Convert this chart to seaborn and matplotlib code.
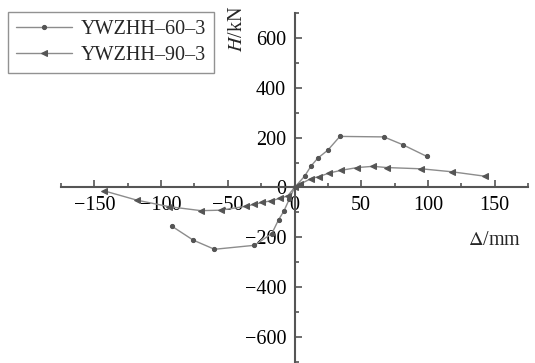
import numpy as np
import pandas as pd
import matplotlib
matplotlib.use("Agg")
import matplotlib.pyplot as plt
import seaborn as sns
from matplotlib.ticker import MultipleLocator

# hysteresis skeleton curves
x_60 = [-92, -76, -60, -30, -17, -12, -8, -4, 0, 7.5, 12.5, 17.5, 25, 34, 67, 81, 99]
h_60 = [-155, -211, -248, -232, -185, -130, -95, -48, 0, 45, 87, 118, 150, 205, 203, 172, 125]

x_90 = [-143, -118, -94, -70, -55, -36, -30, -24, -17.5, -11, -5, 0,
        4, 12.5, 18.5, 26, 35, 47, 59, 69, 95, 118, 143]
h_90 = [-13, -51, -77, -93, -91, -75, -67, -60, -53, -44, -33, 0,
        13, 36, 44, 58, 69, 80, 85, 80, 75, 63, 45]

labels = ["YWZHH\u201360\u20133", "YWZHH\u201390\u20133"]
x_ticks = [-150, -100, -50, 0, 50, 100, 150]
y_ticks = [-600, -400, -200, 0, 200, 400, 600]

sns.set_style("white")
plt.rcParams["font.family"] = ["Liberation Serif", "DejaVu Serif"]
plt.rcParams["mathtext.fontset"] = "stix"

fig = plt.figure(figsize=(5.35, 3.63), dpi=100)
ax = fig.add_axes([0.114, 0.003, 0.873, 0.961])

line_c = "#8c8c8c"
mark_c = "#555555"
sns.lineplot(x=x_60, y=h_60, ax=ax, sort=False, estimator=None, color=line_c,
             lw=1.0, marker="o", markersize=3, markerfacecolor=mark_c,
             markeredgecolor=mark_c, label=labels[0])
sns.lineplot(x=x_90, y=h_90, ax=ax, sort=False, estimator=None, color=line_c,
             lw=1.0, marker="<", markersize=4, markerfacecolor=mark_c,
             markeredgecolor=mark_c, label=labels[1])

ax.set_xlim(-175, 175)
ax.set_ylim(-700, 700)
ax.spines["left"].set_position(("data", 0))
ax.spines["bottom"].set_position(("data", 0))
ax.spines["right"].set_visible(False)
ax.spines["top"].set_visible(False)
for s in ("left", "bottom"):
    ax.spines[s].set_color("#555555")
    ax.spines[s].set_linewidth(1.5)

ax.set_xticks(x_ticks)
ax.set_yticks(y_ticks)
ax.xaxis.set_minor_locator(MultipleLocator(25))
ax.yaxis.set_minor_locator(MultipleLocator(100))
ax.set_xticklabels([str(v).replace("-", "\u2212") for v in x_ticks])
ax.set_yticklabels([str(v).replace("-", "\u2212") for v in y_ticks])
ax.tick_params(which="both", direction="in", colors="#555555", labelcolor="black",
               labelsize=14.5, width=1.2)
ax.tick_params(which="major", length=5, pad=6)
ax.tick_params(which="minor", length=3)
ax.tick_params(axis="x", which="both", bottom=True)
ax.tick_params(axis="y", which="both", left=True)

ax.text(-43, 636, r"$H$/kN", rotation=90, ha="center", va="center", fontsize=14.5)
ax.text(150, -212, r"$\Delta$/mm", ha="center", va="center", fontsize=14.5)

leg = ax.legend(loc="upper left", bbox_to_anchor=(-0.1135, 1.003), borderaxespad=0,
                fontsize=14.5, frameon=True, fancybox=False, handlelength=2.8,
                borderpad=0.4, labelspacing=0.35, handletextpad=0.4)
leg.get_frame().set_edgecolor("#777777")
leg.get_frame().set_linewidth(1.0)

fig.savefig("out.png", dpi=100)
